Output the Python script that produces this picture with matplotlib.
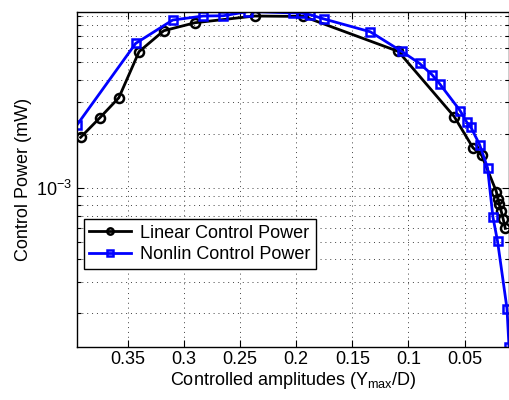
import matplotlib
matplotlib.use('Agg')
import matplotlib.pyplot as plt
import numpy as np
from matplotlib.ticker import LogLocator, NullFormatter, FixedLocator, FuncFormatter

# data
x_lin = [0.392, 0.375, 0.358, 0.340, 0.318, 0.290, 0.237, 0.1935, 0.109, 0.0592,
         0.0425, 0.0348, 0.0217, 0.0204, 0.0191, 0.0173, 0.0155, 0.0137]
y_lin = [1.91e-3, 2.45e-3, 3.17e-3, 5.72e-3, 7.48e-3, 8.29e-3, 9.03e-3, 8.98e-3,
         5.74e-3, 2.49e-3, 1.67e-3, 1.52e-3, 9.54e-4, 8.72e-4, 8.08e-4, 7.40e-4,
         6.67e-4, 5.95e-4]

x_nl = [0.395, 0.343, 0.310, 0.283, 0.265, 0.2425, 0.203, 0.196, 0.1875, 0.175,
        0.134, 0.106, 0.090, 0.079, 0.072, 0.054, 0.0479, 0.0443, 0.0366, 0.0295,
        0.0247, 0.0206, 0.0122, 0.0104]
y_nl = [2.25e-3, 6.36e-3, 8.58e-3, 9.03e-3, 9.06e-3, 9.57e-3, 9.40e-3, 9.40e-3,
        9.18e-3, 8.69e-3, 7.38e-3, 5.74e-3, 4.92e-3, 4.26e-3, 3.78e-3, 2.69e-3,
        2.31e-3, 2.17e-3, 1.74e-3, 1.29e-3, 6.87e-4, 5.04e-4, 2.13e-4, 1.31e-4]

x_ticks = [0.05, 0.1, 0.15, 0.2, 0.25, 0.3, 0.35]

plt.rcParams['font.family'] = ['Liberation Sans', 'DejaVu Sans']
plt.rcParams['mathtext.fontset'] = 'custom'
plt.rcParams['mathtext.rm'] = 'Liberation Sans'
plt.rcParams['mathtext.it'] = 'Liberation Sans'
fs = 13

fig = plt.figure(figsize=(5.1, 4.0), dpi=100)
ax = fig.add_axes([77.3 / 510, 1 - 346.5 / 400, (509 - 77.3) / 510, (346.5 - 11.5) / 400])

ax.plot(x_lin, y_lin, 'k-o', lw=2, ms=6.5, mew=1.8, mfc='none', label='Linear Control Power')
ax.plot(x_nl, y_nl, '-s', color='b', lw=2, ms=6, mew=1.8, mfc='none', label='Nonlin Control Power')

ax.set_yscale('log')
ax.set_xlim(max(x_lin + x_nl), min(x_lin + x_nl))
ax.set_ylim(min(y_lin + y_nl), max(y_lin + y_nl))

ax.xaxis.set_major_locator(FixedLocator(x_ticks))
ax.xaxis.set_major_formatter(FuncFormatter(lambda v, p: '%g' % v))
ax.yaxis.set_major_locator(LogLocator(base=10, numticks=10))
ax.yaxis.set_minor_locator(LogLocator(base=10, subs=np.arange(2, 10), numticks=10))
ax.yaxis.set_minor_formatter(NullFormatter())

# matlab-like sparse dotted grid
ax.grid(True, which='major', axis='both', ls=(0, (1, 4)), color='0.25', lw=0.7)
ax.grid(True, which='minor', axis='y', ls=(0, (1, 4)), color='0.25', lw=0.7)
ax.tick_params(which='both', direction='in', top=True, right=True, labelsize=fs, width=0.8)
ax.tick_params(which='major', length=5)
ax.tick_params(which='minor', length=3)
for s in ax.spines.values():
    s.set_linewidth(1)

ax.set_xlabel('Controlled amplitudes (Y$_{\\rm max}$/D)', fontsize=fs, labelpad=1)
ax.set_ylabel('Control Power (mW)', fontsize=fs, labelpad=3)

leg = ax.legend(loc='upper left', bbox_to_anchor=(0.0155, 0.38), borderaxespad=0,
                fontsize=fs, handlelength=2.3, handletextpad=0.5, borderpad=0.3,
                labelspacing=0.25, fancybox=False, framealpha=1, markerscale=0.7)
leg.get_frame().set_edgecolor('k')
leg.get_frame().set_linewidth(1)

fig.savefig('out.png', dpi=100)
